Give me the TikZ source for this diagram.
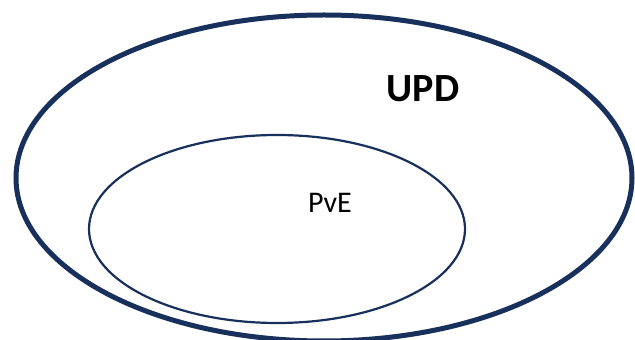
\documentclass[tikz,border=0pt]{standalone}
\usepackage{fontspec}
\setmainfont{Carlito}
\definecolor{navy}{RGB}{24,48,92}
\begin{document}
\begin{tikzpicture}[x=1pt,y=1pt,
  outerell/.style={draw=navy,line width=5pt},
  innerell/.style={draw=navy,line width=2.2pt},
  lbl/.style={anchor=base,inner sep=0pt}]
\useasboundingbox (0,0) rectangle (635,340);
\clip (0,0) rectangle (635,340);
\fill[white] (0,0) rectangle (635,340);
\draw[outerell] (324,162) ellipse [x radius=308, y radius=163];
\draw[innerell] (277,111) ellipse [x radius=188, y radius=94];
\node[lbl,font=\fontsize{40}{44}\selectfont\bfseries] (upd) at (423,238) {UPD};
\node[lbl,font=\fontsize{30}{34}\selectfont] (pve) at (330,127) {PvE};
\end{tikzpicture}
\end{document}
